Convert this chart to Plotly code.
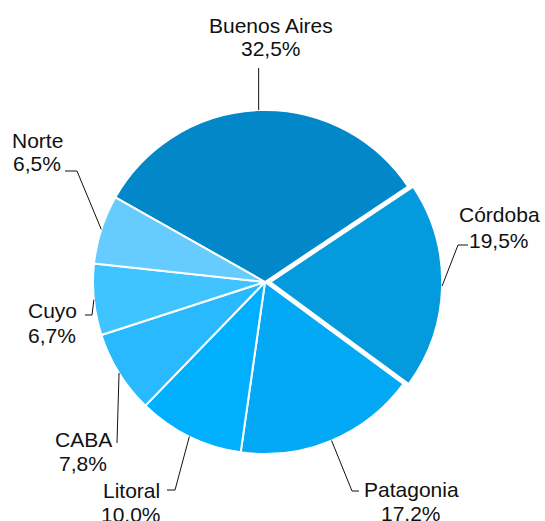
import math
import plotly.graph_objects as go

# ---- data ----
regions = ["Buenos Aires", "Córdoba", "Patagonia", "Litoral", "CABA", "Cuyo", "Norte"]
shares = [32.5, 19.5, 17.2, 10.0, 7.8, 6.7, 6.5]
pct_labels = ["32,5%", "19,5%", "17,2%", "10,0%", "7,8%", "6,7%", "6,5%"]

# ---- style ----
colors = ["#0288C8", "#039BDD", "#03A9F4", "#00B0FF", "#29B9FF", "#40C4FF", "#66CCFF"]
pulls = [0, 0.03, 0, 0, 0, 0, 0]
W, H = 545, 521
CX, CY, R = 265, 282, 172          # pie centre / radius in px
ROT = -60.5
FONT = "Liberation Sans, Arial, sans-serif"
FS = 21

# label layout (px): name centre, pct centre, elbow, end of leader
label_layout = [
    dict(name=(271, 25), pct=(271, 49), elbow=None, end=(None, 68)),
    dict(name=(499, 214), pct=(499, 240), elbow=(458, 245), end=(468, 245)),
    dict(name=(411, 489), pct=(411, 513), elbow=(352, 491), end=(359, 491)),
    dict(name=(131, 490), pct=(131, 514), elbow=(175, 490), end=(167, 490)),
    dict(name=(83, 439), pct=(83, 463), elbow=None, end=(117, 443)),
    dict(name=(52, 310), pct=(52, 335), elbow=(92, 315), end=(85, 315)),
    dict(name=(37, 140), pct=(37, 163), elbow=(77, 171), end=(65, 171)),
]

def px2paper(x, y):
    return x / W, 1 - y / H

maxpull = max(pulls)
half = R * (1 + maxpull)
x0, y1 = px2paper(CX - half, CY - half)
x1, y0 = px2paper(CX + half, CY + half)

fig = go.Figure(go.Pie(
    labels=regions, values=shares, sort=False, direction="clockwise",
    rotation=ROT, pull=pulls, textinfo="none", hoverinfo="label+percent",
    marker=dict(colors=colors, line=dict(color="white", width=2)),
    domain=dict(x=[x0, x1], y=[y0, y1]), showlegend=False,
))

total = sum(shares)
annotations = []
shapes = []
cum = 0.0
for i, v in enumerate(shares):
    mid = ROT + (cum + v / 2) / total * 360
    cum += v
    a = math.radians(mid)
    rr = R * (1 + pulls[i])
    ex = CX + rr * math.sin(a)
    ey = CY - rr * math.cos(a)
    lay = label_layout[i]
    pts = [(ex, ey)]
    if lay["elbow"]:
        pts.append(lay["elbow"])
    endx, endy = lay["end"]
    if endx is None:
        endx = ex
    pts.append((endx, endy))
    path = ""
    for j, (px, py) in enumerate(pts):
        qx, qy = px2paper(px, py)
        path += ("M" if j == 0 else "L") + f" {qx} {qy} "
    shapes.append(dict(type="path", path=path, xref="paper", yref="paper",
                       line=dict(color="#111111", width=1)))
    for key, txt in (("name", regions[i]), ("pct", pct_labels[i])):
        tx, ty = px2paper(*lay[key])
        annotations.append(dict(text=txt, x=tx, y=ty, xref="paper", yref="paper",
                                xanchor="center", yanchor="middle", showarrow=False,
                                font=dict(family=FONT, size=FS, color="#111111")))

fig.update_layout(
    width=W, height=H, margin=dict(l=0, r=0, t=0, b=0),
    paper_bgcolor="white", plot_bgcolor="white",
    annotations=annotations, shapes=shapes,
)
fig.write_html("out.html", config={"displayModeBar": False},
               post_script="document.body.style.margin='0';document.body.style.overflow='hidden';")
